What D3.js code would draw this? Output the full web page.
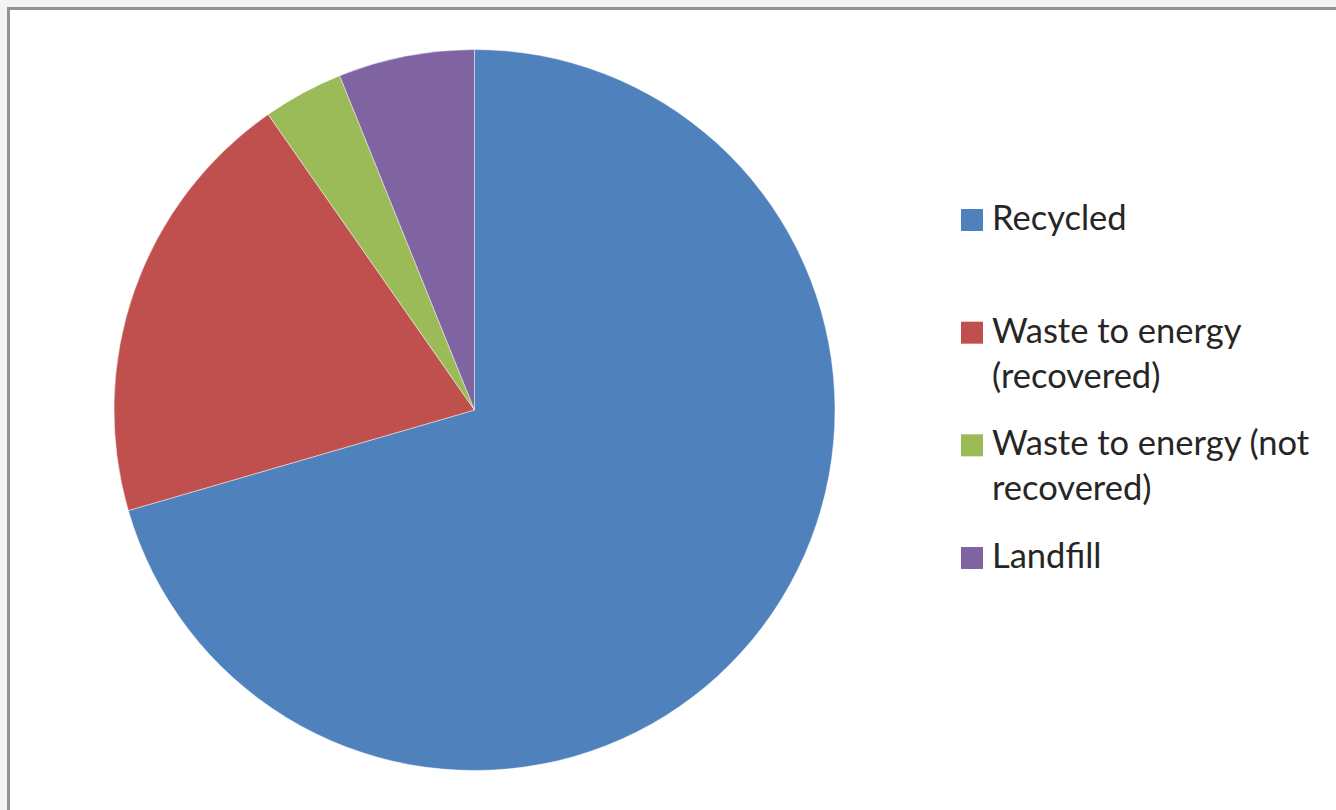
<!DOCTYPE html>
<html>
<head>
<meta charset="utf-8">
<script src="https://cdn.jsdelivr.net/npm/d3@7"></script>
<style>
  html, body { margin: 0; padding: 0; background: #f4f4f4; }
  svg { display: block; }
</style>
</head>
<body>
<svg id="chart" width="1336" height="810"></svg>
<script>
// Waste destination shares (percent)
const categories = ["Recycled", "Waste to energy (recovered)", "Waste to energy (not recovered)", "Landfill"];
const values = [70.5, 19.8, 3.6, 6.1];
const colors = ["#4F81BD", "#C0504D", "#9BBB59", "#8064A2"];
const legendLines = [["Recycled"], ["Waste to energy", "(recovered)"], ["Waste to energy (not", "recovered)"], ["Landfill"]];

const W = 1336, H = 810;
const svg = d3.select("#chart");

// chart area with grey frame
svg.append("rect")
  .attr("x", 8.5).attr("y", 8.5)
  .attr("width", W + 20).attr("height", H + 20)
  .attr("fill", "#ffffff")
  .attr("stroke", "#939393")
  .attr("stroke-width", 3);

// pie
const cx = 474.5, cy = 410, r = 360.5;
const data = categories.map((c, i) => ({ name: c, value: values[i], color: colors[i] }));
const pie = d3.pie().sort(null).value(d => d.value);
const arc = d3.arc().innerRadius(0).outerRadius(r);

svg.append("g")
  .attr("transform", `translate(${cx},${cy})`)
  .selectAll("path")
  .data(pie(data))
  .join("path")
  .attr("d", arc)
  .attr("fill", d => d.data.color)
  .attr("stroke", "#ffffff")
  .attr("stroke-opacity", 0.45)
  .attr("stroke-width", 1);

// legend
const ly = d3.scalePoint().domain(categories).range([220, 558]);
const legend = svg.append("g")
  .selectAll("g")
  .data(data)
  .join("g")
  .attr("transform", d => `translate(0,${ly(d.name)})`);

legend.append("rect")
  .attr("x", 961).attr("y", -11)
  .attr("width", 22).attr("height", 22)
  .attr("fill", d => d.color);

legend.append("text")
  .attr("x", 992)
  .attr("y", 10)
  .attr("font-family", "Lato, 'Open Sans', sans-serif")
  .attr("font-size", 34.5)
  .attr("fill", "#262626")
  .selectAll("tspan")
  .data((d, i) => legendLines[i])
  .join("tspan")
  .attr("x", 992)
  .attr("dy", (t, j) => j === 0 ? 0 : 45)
  .text(t => t);
</script>
</body>
</html>
